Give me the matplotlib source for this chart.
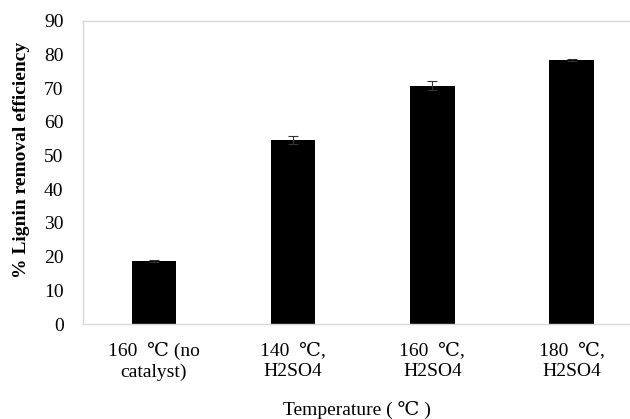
import matplotlib.pyplot as plt
import numpy as np

categories = ["160  \u2103 (no\ncatalyst)", "140  \u2103,\nH2SO4", "160  \u2103,\nH2SO4", "180  \u2103,\nH2SO4"]
removal = [18.8, 54.6, 70.7, 78.3]
errors = [0.3, 1.2, 1.4, 0.4]
yticks = list(range(0, 91, 10))

plt.rcParams['font.family'] = ['Liberation Serif', 'DejaVu Serif']

fig = plt.figure(figsize=(6.3, 4.19), dpi=100)
ax = fig.add_axes([0.1317, 0.2267, 0.8683, 0.724])

x = np.arange(len(categories))
ax.bar(x, removal, width=0.32, color="black", zorder=2)
ax.errorbar(x, removal, yerr=errors, fmt="none", ecolor="#333333",
            elinewidth=0.8, capsize=3.6, capthick=0.8, zorder=3)

ax.set_xlim(-0.51, 3.42)
ax.set_ylim(0, 90)
ax.set_yticks(yticks)
ax.set_xticks(x)
ax.set_xticklabels(categories, fontsize=14, linespacing=1.3)
ax.tick_params(axis="y", length=0, pad=14, labelsize=14)
ax.tick_params(axis="x", length=0, pad=13)

for side in ["top", "left", "bottom"]:
    ax.spines[side].set_color("#d9d9d9")
    ax.spines[side].set_linewidth(1.0)
ax.spines["right"].set_visible(False)

ax.set_ylabel("% Lignin removal efficiency", fontsize=14, fontweight="bold")
ax.yaxis.set_label_coords(-0.097, 0.54)
ax.set_xlabel("Temperature ( \u2103 )", fontsize=14, labelpad=14)

fig.savefig("out.png", dpi=100)
